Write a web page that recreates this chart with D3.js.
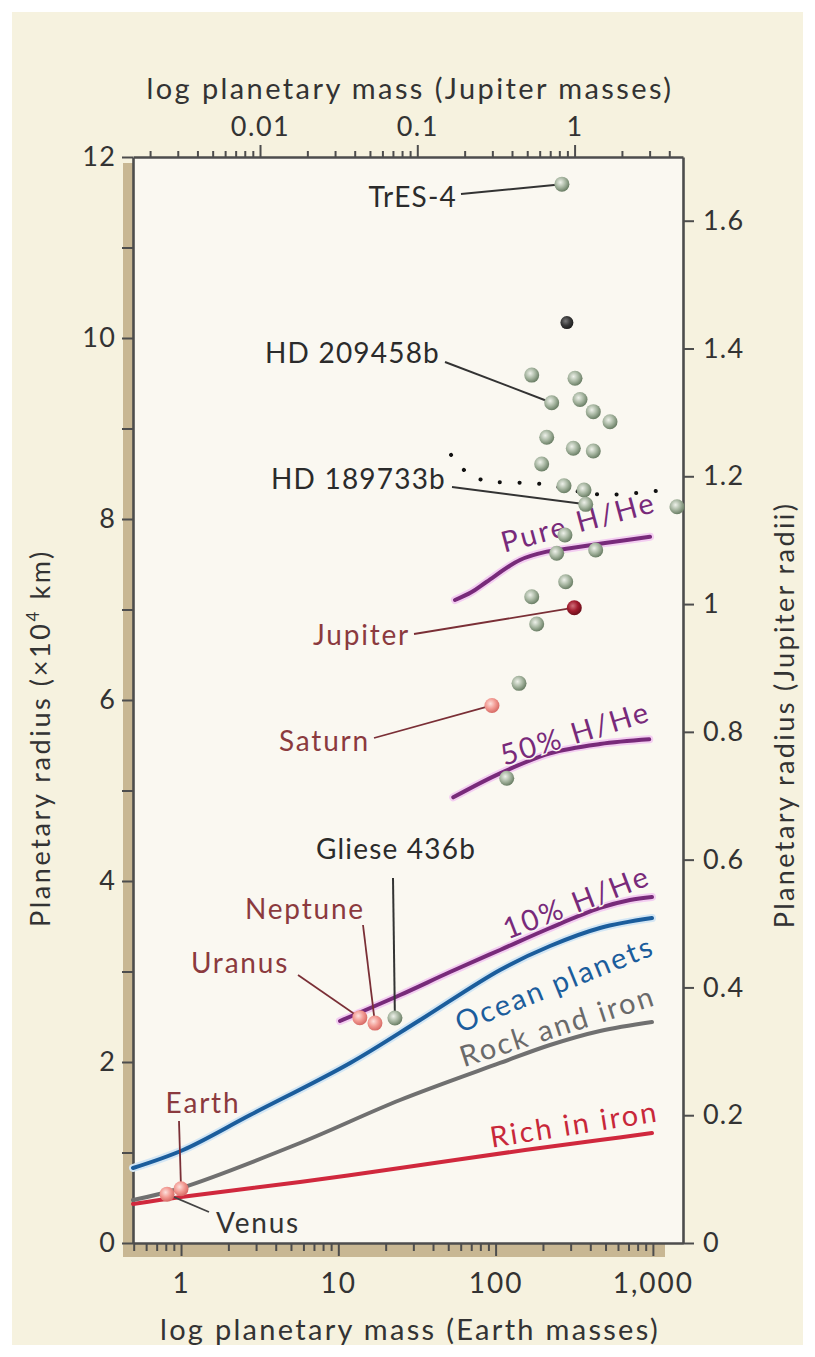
<!DOCTYPE html>
<html>
<head>
<meta charset="utf-8">
<script src="https://cdn.jsdelivr.net/npm/d3@7"></script>
<style>
  html, body { margin: 0; padding: 0; background: #ffffff; }
  svg { display: block; }
  text { font-family: Lato, "Open Sans", sans-serif; }
</style>
</head>
<body>
<svg id="chart" width="815" height="1357"></svg>
<script>
// ---- Data -------------------------------------------------------------
// Transiting exoplanets: mass (Earth masses), radius (10^4 km)
const exoMass   = [264, 284, 169.7, 319.7, 227.3, 344, 417.9, 533.7, 211.3, 311.9, 417.9, 196.3, 272.2, 364.8, 374, 1423, 276, 244.5, 432.9, 279, 169.7, 182.5, 140.9, 117.7, 22.9];
const exoRadius = [11.70, 10.17, 9.59, 9.555, 9.285, 9.32, 9.186, 9.075, 8.903, 8.781, 8.751, 8.608, 8.368, 8.32, 8.162, 8.136, 7.823, 7.621, 7.657, 7.307, 7.141, 6.839, 6.184, 5.135, 2.486];
const exoKind   = ["grey", "dark", "grey", "grey", "grey", "grey", "grey", "grey", "grey", "grey", "grey", "grey", "grey", "grey", "grey", "grey", "grey", "grey", "grey", "grey", "grey", "grey", "grey", "grey", "grey"];
const exoNames  = ["TrES-4", "", "", "", "HD 209458b", "", "", "", "", "", "", "", "", "", "HD 189733b", "", "", "", "", "", "", "", "", "", "Gliese 436b"];

// Solar-system planets
const planetNames  = ["Jupiter", "Saturn", "Uranus", "Neptune", "Earth", "Venus"];
const planetMass   = [316.5, 94.8, 13.7, 17.1, 1.0, 0.815];
const planetRadius = [7.02, 5.94, 2.49, 2.43, 0.60, 0.54];
const planetKind   = ["jupiter", "pale", "pale", "pale", "pale", "pale"];

// Model mass-radius relations (Earth masses, 10^4 km)
const pureMass    = [55.2, 70, 87.8, 142.9, 211.3, 297.2, 484, 959];
const pureRadius  = [7.105, 7.19, 7.307, 7.547, 7.639, 7.676, 7.731, 7.804];
const halfMass    = [53.8, 106.7, 221.8, 461, 948];
const halfRadius  = [4.925, 5.19, 5.411, 5.514, 5.566];
const tenMass     = [10.25, 24.7, 51.3, 106.7, 221.8, 461, 715, 987];
const tenRadius   = [2.453, 2.74, 2.994, 3.238, 3.481, 3.702, 3.79, 3.823];
const oceanMass   = [0.495, 1.03, 2.75, 11.9, 33.1, 106.7, 221.8, 461, 987];
const oceanRadius = [0.829, 1.028, 1.414, 1.989, 2.464, 3.017, 3.282, 3.481, 3.591];
const rockMass    = [0.495, 1, 5.71, 24.7, 106.7, 221.8, 461, 987];
const rockRadius  = [0.475, 0.608, 1.105, 1.58, 1.989, 2.188, 2.343, 2.442];
const ironMass    = [0.495, 1, 5.71, 24.7, 153.8, 461, 987];
const ironRadius  = [0.431, 0.508, 0.674, 0.829, 1.028, 1.138, 1.215];
// Dotted relation through HD 189733b
const dotMass     = [52.1, 63.9, 81.9, 191.6, 461, 1062];
const dotRadius   = [8.709, 8.532, 8.432, 8.388, 8.271, 8.31];

// Axis ticks
const earthMajor   = [1, 10, 100, 1000];
const jupiterMajor = [0.01, 0.1, 1];
const radiusTicks  = d3.range(0, 13);
const jupRadTicks  = [0, 0.2, 0.4, 0.6, 0.8, 1, 1.2, 1.4, 1.6];

const EARTHS_PER_JUPITER = 317.8;
const KM4_PER_RJUP = 7.06;

// ---- Layout -----------------------------------------------------------
const svg = d3.select("#chart");
const L = 133, R = 683, T = 157, B = 1243;

const x  = d3.scaleLog().domain([0.495, 1554]).range([L, R]);
const xJ = d3.scaleLog().domain([0.495 / EARTHS_PER_JUPITER, 1554 / EARTHS_PER_JUPITER]).range([L, R]);
const y  = d3.scaleLinear().domain([0, 12]).range([B, T]);
const yJ = d3.scaleLinear().domain([0, 12 / KM4_PER_RJUP]).range([B, T]);

const AXIS = "#4d4d4d", TAN = "#c8b793", INK = "#333";

// background
svg.append("rect").attr("width", 815).attr("height", 1357).attr("fill", "#ffffff");
svg.append("rect").attr("x", 12).attr("y", 12).attr("width", 791).attr("height", 1333).attr("fill", "#f6f2df");
// shadow strips along the left and bottom frame
svg.append("rect").attr("x", L - 10).attr("y", T + 6).attr("width", 10).attr("height", B - T + 8).attr("fill", TAN);
svg.append("rect").attr("x", L - 10).attr("y", B).attr("width", R - L - 8).attr("height", 14).attr("fill", TAN);
// plot panel
svg.append("rect").attr("x", L).attr("y", T).attr("width", R - L).attr("height", B - T).attr("fill", "#faf8f1");

const defs = svg.append("defs");
function ball(id, c0, c1, c2) {
  const g = defs.append("radialGradient").attr("id", id).attr("cx", "40%").attr("cy", "38%").attr("r", "62%");
  g.append("stop").attr("offset", "0%").attr("stop-color", c0);
  g.append("stop").attr("offset", "55%").attr("stop-color", c1);
  g.append("stop").attr("offset", "100%").attr("stop-color", c2);
}
ball("g-grey", "#eef1ea", "#a7b6a1", "#6b7f66");
ball("g-dark", "#7a7a7a", "#3a3a3a", "#1e1e1e");
ball("g-jupiter", "#d0707a", "#a11c2d", "#6d0f1b");
ball("g-pale", "#fde0dc", "#f29a92", "#d76b66");

// ---- Axes -------------------------------------------------------------
function logTicks(lo, hi) {
  const out = [];
  for (let e = -4; e <= 4; e++) for (let m = 1; m <= 9; m++) {
    const v = m * Math.pow(10, e);
    if (v >= lo && v <= hi) out.push(+v.toPrecision(3));
  }
  return out;
}
function styleAxis(g) {
  g.select(".domain").attr("stroke", AXIS).attr("stroke-width", 2.6);
  g.selectAll(".tick line").attr("stroke", AXIS).attr("stroke-width", 2);
  g.selectAll(".tick text").attr("fill", INK).attr("font-size", 27)
    .attr("letter-spacing", 1.2).attr("font-family", "Lato, sans-serif");
}

// left: radius in 10^4 km
const gL = svg.append("g").attr("transform", `translate(${L},0)`)
  .call(d3.axisLeft(y).tickValues(radiusTicks).tickSize(11).tickSizeOuter(0).tickPadding(6)
    .tickFormat(d => d % 2 === 0 ? d : ""));
styleAxis(gL);

// right: radius in Jupiter radii
const gR = svg.append("g").attr("transform", `translate(${R},0)`)
  .call(d3.axisRight(yJ).tickValues(jupRadTicks).tickSize(11).tickSizeOuter(0).tickPadding(9)
    .tickFormat(d => (d === 0 || d === 1) ? String(d) : d3.format(".1f")(d)));
styleAxis(gR);

// bottom: Earth masses
const bTicks = logTicks(0.495, 1554);
const gB = svg.append("g").attr("transform", `translate(0,${B})`)
  .call(d3.axisBottom(x).tickValues(bTicks).tickSize(8).tickSizeOuter(0).tickPadding(22)
    .tickFormat(d => earthMajor.includes(d) ? d3.format(",")(d) : ""));
styleAxis(gB);
gB.selectAll(".tick line").attr("y2", d => earthMajor.includes(d) ? 13 : 8);
gB.selectAll(".tick text").attr("font-size", 28).attr("letter-spacing", 2);

// top: Jupiter masses
const tTicks = logTicks(0.495 / EARTHS_PER_JUPITER, 1554 / EARTHS_PER_JUPITER);
const gT = svg.append("g").attr("transform", `translate(0,${T})`)
  .call(d3.axisTop(xJ).tickValues(tTicks).tickSize(6).tickSizeOuter(0).tickPadding(19)
    .tickFormat(d => jupiterMajor.includes(d) ? String(d) : ""));
styleAxis(gT);
gT.selectAll(".tick line").attr("y2", d => jupiterMajor.includes(d) ? -12 : -6);
gT.selectAll(".tick text").attr("y", -21).attr("letter-spacing", 1.5);

// axis titles
svg.append("text").attr("x", 410).attr("y", 99).attr("text-anchor", "middle")
  .attr("font-size", 29).attr("letter-spacing", 2.4).attr("fill", INK)
  .text("log planetary mass (Jupiter masses)");
svg.append("text").attr("x", 410).attr("y", 1340).attr("text-anchor", "middle")
  .attr("font-size", 29).attr("letter-spacing", 2.3).attr("fill", INK)
  .text("log planetary mass (Earth masses)");
const lt = svg.append("text").attr("transform", "translate(50,738) rotate(-90)").attr("text-anchor", "middle")
  .attr("font-size", 27).attr("letter-spacing", 2.6).attr("fill", INK);
lt.append("tspan").text("Planetary radius (×10");
lt.append("tspan").attr("font-size", 17).attr("dy", -11).text("4");
lt.append("tspan").attr("dy", 11).text(" km)");
svg.append("text").attr("transform", "translate(794,715) rotate(-90)").attr("text-anchor", "middle")
  .attr("font-size", 27).attr("letter-spacing", 2.4).attr("fill", INK)
  .text("Planetary radius (Jupiter radii)");

// ---- Model curves -----------------------------------------------------
const line = d3.line().x(d => x(d[0])).y(d => y(d[1])).curve(d3.curveCatmullRom.alpha(0.5));
const zip = (a, b) => a.map((v, i) => [v, b[i]]);

const plot = svg.append("g");
const curves = [
  { m: ironMass,  r: ironRadius,  color: "#d0283d", halo: null },
  { m: rockMass,  r: rockRadius,  color: "#707070", halo: null },
  { m: oceanMass, r: oceanRadius, color: "#1b5d9c", halo: "#d3e6f4" },
  { m: tenMass,   r: tenRadius,   color: "#782a7a", halo: "#f3cdf1" },
  { m: halfMass,  r: halfRadius,  color: "#782a7a", halo: "#f3cdf1" },
  { m: pureMass,  r: pureRadius,  color: "#782a7a", halo: "#f3cdf1" }
];
curves.forEach(c => {
  if (c.halo) plot.append("path").attr("d", line(zip(c.m, c.r))).attr("fill", "none")
    .attr("stroke", c.halo).attr("stroke-width", 8).attr("stroke-linecap", "round");
  plot.append("path").attr("d", line(zip(c.m, c.r))).attr("fill", "none")
    .attr("stroke", c.color).attr("stroke-width", 4).attr("stroke-linecap", "round");
});

// dotted relation
plot.append("path").attr("d", line(zip(dotMass, dotRadius))).attr("fill", "none")
  .attr("stroke", "#111").attr("stroke-width", 4).attr("stroke-linecap", "round")
  .attr("stroke-dasharray", "0.1 19.5");

// curve labels
const curveLabels = [
  { t: "Pure H/He",     cx: 578, cy: 521,  a: -15, c: "#782a7a" },
  { t: "50% H/He",      cx: 575, cy: 732,  a: -17, c: "#782a7a" },
  { t: "10% H/He",      cx: 576, cy: 901,  a: -21, c: "#782a7a" },
  { t: "Ocean planets", cx: 554, cy: 983,  a: -22, c: "#1b5d9c" },
  { t: "Rock and iron", cx: 557, cy: 1025, a: -18, c: "#6a6a6a" },
  { t: "Rich in iron",  cx: 574, cy: 1123, a: -9,  c: "#c8283a" }
];
curveLabels.forEach(l => {
  plot.append("text").attr("transform", `translate(${l.cx},${l.cy}) rotate(${l.a})`)
    .attr("text-anchor", "middle").attr("dominant-baseline", "central")
    .attr("font-size", 29).attr("letter-spacing", 2.3).attr("fill", l.c)
    .attr("stroke", "#fbf8f2").attr("stroke-width", 3).attr("paint-order", "stroke")
    .text(l.t);
});

// ---- Leaders and labels ----------------------------------------------
const exoLabelPos = {
  "TrES-4":      { tx: 457, ty: 196, anchor: "end",    lx: 461, ly: 194 },
  "HD 209458b":  { tx: 440, ty: 352, anchor: "end",    lx: 445, ly: 362 },
  "HD 189733b":  { tx: 446, ty: 478, anchor: "end",    lx: 452, ly: 487 },
  "Gliese 436b": { tx: 396, ty: 848, anchor: "middle", lx: 393, ly: 878 }
};
const planetLabelPos = {
  "Jupiter": { tx: 410, ty: 634,  anchor: "end",    lx: 414, ly: 634 },
  "Saturn":  { tx: 370, ty: 740,  anchor: "end",    lx: 374, ly: 738 },
  "Neptune": { tx: 305, ty: 908,  anchor: "middle", lx: 363, ly: 925 },
  "Uranus":  { tx: 240, ty: 962,  anchor: "middle", lx: 298, ly: 975 },
  "Earth":   { tx: 203, ty: 1102, anchor: "middle", lx: 179, ly: 1121 },
  "Venus":   { tx: 258, ty: 1222, anchor: "middle", lx: 209, ly: 1212 }
};

exoNames.forEach((n, i) => {
  if (!n) return;
  const p = exoLabelPos[n];
  plot.append("line").attr("x1", p.lx).attr("y1", p.ly)
    .attr("x2", x(exoMass[i])).attr("y2", y(exoRadius[i]))
    .attr("stroke", "#333").attr("stroke-width", 2);
});
planetNames.forEach((n, i) => {
  const p = planetLabelPos[n];
  plot.append("line").attr("x1", p.lx).attr("y1", p.ly)
    .attr("x2", x(planetMass[i])).attr("y2", y(planetRadius[i]))
    .attr("stroke", n === "Venus" ? "#444" : "#7a2f36").attr("stroke-width", 1.8);
});

// ---- Points -----------------------------------------------------------
plot.selectAll("circle.exo").data(exoMass).join("circle").attr("class", "exo")
  .attr("cx", d => x(d)).attr("cy", (d, i) => y(exoRadius[i]))
  .attr("r", (d, i) => exoKind[i] === "dark" ? 6.5 : 7.5)
  .attr("fill", (d, i) => `url(#g-${exoKind[i]})`);
plot.selectAll("circle.planet").data(planetMass).join("circle").attr("class", "planet")
  .attr("cx", d => x(d)).attr("cy", (d, i) => y(planetRadius[i])).attr("r", 7.5)
  .attr("fill", (d, i) => `url(#g-${planetKind[i]})`);

// label text drawn on top
exoNames.forEach(n => {
  if (!n) return;
  const p = exoLabelPos[n];
  plot.append("text").attr("x", p.tx).attr("y", p.ty).attr("text-anchor", p.anchor)
    .attr("dominant-baseline", "central").attr("font-size", 28).attr("letter-spacing", 1.2)
    .attr("fill", "#2b2b2b").text(n);
});
planetNames.forEach(n => {
  const p = planetLabelPos[n];
  plot.append("text").attr("x", p.tx).attr("y", p.ty).attr("text-anchor", p.anchor)
    .attr("dominant-baseline", "central").attr("font-size", 28).attr("letter-spacing", 1.8)
    .attr("fill", n === "Venus" ? "#333" : "#8b3a3e").text(n);
});
</script>
</body>
</html>
